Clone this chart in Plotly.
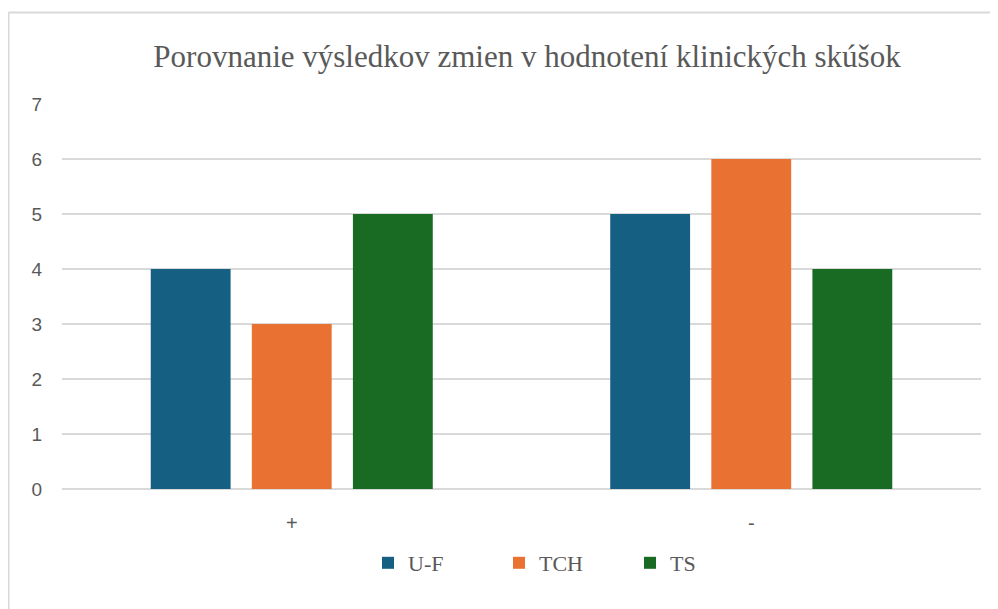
import plotly.graph_objects as go

categories = ["+", "-"]
series_names = ["U-F", "TCH", "TS"]
uf_values = [4, 5]
tch_values = [3, 6]
ts_values = [5, 4]
colors = ["#156082", "#E97132", "#196B24"]
y_ticks = [0, 1, 2, 3, 4, 5, 6, 7]
title_text = "Porovnanie výsledkov zmien v hodnotení klinických skúšok"

fig = go.Figure()
for name, vals, col in zip(series_names, [uf_values, tch_values, ts_values], colors):
    fig.add_trace(go.Bar(name=name, x=categories, y=vals, marker=dict(color=col, line=dict(width=0))))

# page body has an 8px margin; work in reference pixel coords minus 8
OFF = 8
W, H = 998 - OFF, 609 - OFF
L, R, T, B = 62 - OFF, 17, 104 - OFF, 120
pw, ph = W - L - R, H - T - B

def px_x(x):
    return (x - OFF - L) / pw

def px_y(y):
    return (H - B - (y - OFF)) / ph

fig.update_layout(
    width=W, height=H,
    margin=dict(l=L, r=R, t=T, b=B),
    paper_bgcolor="white", plot_bgcolor="white",
    barmode="group", bargap=0.34, bargroupgap=0.21,
    title=dict(text=title_text, x=(527 - OFF) / W, xanchor="center", y=1 - (56 - OFF) / H, yanchor="middle",
               yref="container", font=dict(family="Liberation Serif", size=31, color="#595959")),
    xaxis=dict(showline=False, ticks="", ticklabelstandoff=20,
               tickfont=dict(family="Liberation Sans", size=20, color="#595959")),
    yaxis=dict(range=[0, 7], tickvals=y_ticks, showline=False, ticks="",
               gridcolor="#D9D9D9", gridwidth=1.5, zeroline=True, zerolinecolor="#D9D9D9", zerolinewidth=1.5,
               ticklabelstandoff=19,
               tickfont=dict(family="Liberation Sans", size=19, color="#595959")),
    legend=dict(orientation="h", x=px_x(368), xanchor="left", xref="paper",
                y=px_y(563), yanchor="middle", itemwidth=30, entrywidth=86, entrywidthmode="pixels",
                font=dict(family="Liberation Serif", size=22, color="#595959")),
    showlegend=True,
    shapes=[
        dict(type="line", xref="paper", yref="paper", x0=px_x(8.5), x1=px_x(1010), y0=px_y(12.5), y1=px_y(12.5),
             line=dict(color="#D9D9D9", width=2)),
        dict(type="line", xref="paper", yref="paper", x0=px_x(8.5), x1=px_x(8.5), y0=px_y(12.5), y1=px_y(620),
             line=dict(color="#D9D9D9", width=2)),
    ],
)

fig.write_html("out.html")
